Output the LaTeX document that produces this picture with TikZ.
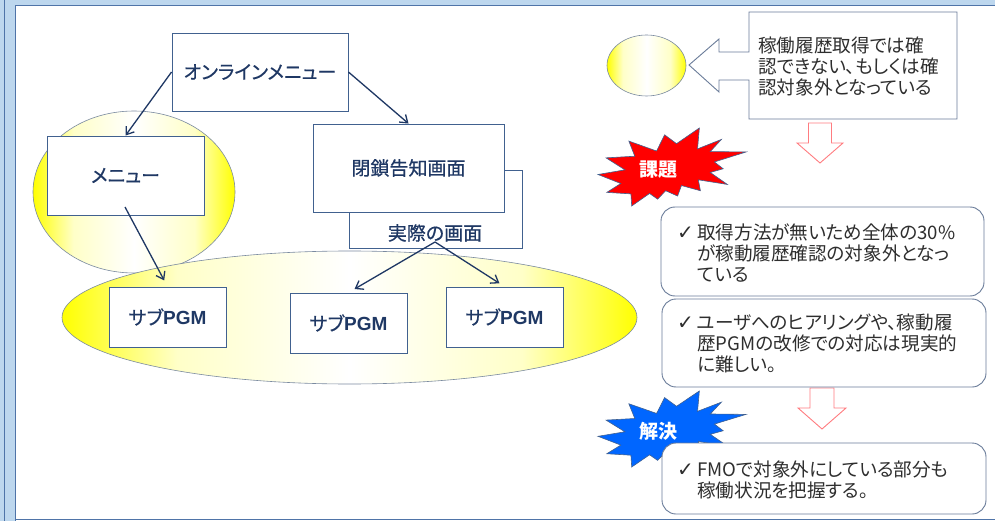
\documentclass[tikz,border=0pt]{standalone}
\usepackage{fontspec}
\setmainfont{Noto Sans CJK JP}[RawFeature=+palt]
\newfontfamily\lblfont{Noto Sans CJK JP}[RawFeature=+palt, FakeBold=0.6]
\newfontfamily\dejavu{DejaVu Sans}
\newfontfamily\arialf{Liberation Sans}
\usetikzlibrary{arrows.meta}
\definecolor{navy}{HTML}{1F3864}
\definecolor{boxline}{HTML}{41618F}
\definecolor{rline}{HTML}{6A7C99}
\definecolor{ellline}{HTML}{7A8AA0}
\definecolor{framebg}{HTML}{BDD7EE}
\definecolor{framedk}{HTML}{4F74A8}
\definecolor{txtgray}{HTML}{2E2E2E}
\definecolor{pinkred}{HTML}{FF7C80}
\definecolor{burstred}{HTML}{FF0000}
\definecolor{burstblue}{HTML}{0066FF}
\definecolor{paley}{HTML}{FFFFC8}
\pgfdeclarehorizontalshading{yellowglow}{100bp}{color(0bp)=(yellow); color(25bp)=(yellow); color(35bp)=(paley); color(50bp)=(white); color(65bp)=(paley); color(75bp)=(yellow); color(100bp)=(yellow)}
\newcommand{\chkmk}{{\dejavu\fontsize{20}{21}\selectfont ✓}}
\newcommand{\sealpath}{(114.62,43.42) -- (147.90,0) -- (145.25,57.77) -- (180.07,31.72) -- (163.80,65.32) -- (216,66.45) -- (169.85,94.02) -- (182.70,112.90) -- (163.80,123.10) -- (188.77,156.32) -- (146.40,143.50) -- (149.42,173.70) -- (121.80,159.35) -- (116.12,188.42) -- (98.72,173.70) -- (87.00,197.12) -- (75.27,181.25) -- (49.17,216) -- (48.05,182.40) -- (12.85,178.25) -- (33.30,153.70) -- (0,128.77) -- (39.35,115.92) -- (11.72,82.70) -- (53.72,78.17) -- (45.02,36.25) -- (85.50,63.82) -- (97.22,18.87) -- cycle}
\begin{document}
\begin{tikzpicture}[x=1pt,y=-1pt,
  box/.style={draw=boxline, fill=white, line width=0.9pt, inner sep=0pt},
  lbl/.style={text=navy, font=\lblfont\fontsize{19}{21}\selectfont},
  conn/.style={draw=navy, line width=1.3pt, -{Straight Barb[length=7pt,width=10pt]}},
  yell/.style={draw=ellline, line width=0.6pt, shading=yellowglow},
  rbox/.style={draw=rline, fill=white, line width=0.9pt, rounded corners=14pt},
  rtext/.style={text=txtgray, font=\fontsize{18.6}{21}\selectfont, align=left, inner sep=0pt, anchor=north west},
  burst/.style={draw=boxline, line width=0.6pt, fill=#1},
  bursttext/.style={text=white, font=\fontsize{19}{21}\selectfont\bfseries},
  hollow/.style={draw=pinkred, fill=white, line width=0.9pt},
]
\useasboundingbox (0,0) rectangle (995,521);
\fill[white] (0,0) rectangle (995,521);
% frame
\fill[framebg] (0,0) rectangle (995,5.5);
\fill[framebg] (0,0) rectangle (16,521);
\draw[framedk, line width=1.5pt] (4.5,0) -- (4.5,521);
\draw[framedk, line width=1.5pt] (15.5,5.5) -- (15.5,521);
\draw[framedk, line width=1.5pt] (15.5,5.5) -- (995,5.5);
\draw[framedk, line width=1.2pt] (15.5,519.5) -- (995,519.5);

% ellipses
\path[yell] (134,192) ellipse [x radius=101, y radius=81];
\path[yell] (349.5,317.5) ellipse [x radius=287.5, y radius=66.5];

% left boxes
\node[box, lbl, minimum width=176pt, minimum height=78pt] (online) at (260,72) {オンラインメニュー};
\node[box, lbl, minimum width=157pt, minimum height=79pt] (menu) at (125.5,175.5) {メニュー};
\node[box, minimum width=173pt, minimum height=78pt] (jissai) at (435.5,209) {};
\node[box, lbl, minimum width=191pt, minimum height=88pt] (heisa) at (408.5,168) {閉鎖告知画面};
\node[lbl] (jtext) at (435,233) {実際の画面};
\node[box, lbl, minimum width=117pt, minimum height=60pt] (pgm1) at (167.5,317) {サブ{\arialf\bfseries PGM}};
\node[box, lbl, minimum width=117pt, minimum height=60pt] (pgm2) at (348.5,323) {サブ{\arialf\bfseries PGM}};
\node[box, lbl, minimum width=117pt, minimum height=60pt] (pgm3) at (504.5,317) {サブ{\arialf\bfseries PGM}};

% connectors
\coordinate (menuout) at (125,207);
\coordinate (apex) at (435,242);
\draw[conn] (online.west) -- (menu.north);
\draw[conn] (online.east) -- (heisa.north);
\draw[conn, shorten >=7pt] (menuout) -- (pgm1.north);
\draw[conn, shorten >=7pt] (apex) -- (pgm2.north);
\draw[conn, shorten >=6pt] (apex) -- (pgm3.north);

% right side
\path[yell] (646.5,65.5) ellipse [x radius=39.5, y radius=30.5];
\draw[draw=rline, fill=white, line width=0.9pt] (749,12) -- (957,12) -- (957,119) -- (749,119) -- (749,80) -- (719,80) -- (719,92) -- (689,65) -- (719,39) -- (719,52) -- (749,52) -- cycle;
\node[rtext] (ctext) at (758,36.5) {稼働履歴取得では確\\認できない、もしくは確\\認対象外となっている};

\draw[hollow] (808.5,123) -- (831.5,123) -- (831.5,143) -- (843,143) -- (820,163) -- (797,143) -- (808.5,143) -- cycle;
\draw[hollow] (810,388) -- (834,388) -- (834,408) -- (846,408) -- (822,429) -- (798,408) -- (810,408) -- cycle;

\begin{scope}[shift={(598,128)}, x=0.6852pt, y=-0.3611pt]
\path[burst=burstred] \sealpath;
\end{scope}
\begin{scope}[shift={(598,391)}, x=0.6852pt, y=-0.3519pt]
\path[burst=burstblue] \sealpath;
\end{scope}
\node[bursttext] (kadai) at (658.5,170) {課題};
\node[bursttext] (kaiketsu) at (658,431) {解決};

\draw[rbox] (661,207) rectangle (984,296);
\draw[rbox] (662,299) rectangle (986,387);
\draw[rbox] (662,443) rectangle (986,514);
\node[rtext] (ta) at (677,223.5) {\makebox[20pt][l]{\chkmk}取得方法が無いため全体の30\%\\\hspace*{20pt}が稼動履歴確認の対象外となっ\\\hspace*{20pt}ている};
\node[rtext] (tb) at (677,313.5) {\makebox[20pt][l]{\chkmk}ユーザへのヒアリングや、稼動履\\\hspace*{20pt}歴PGMの改修での対応は現実的\\\hspace*{20pt}に難しい。};
\node[rtext] (tc) at (677,460.5) {\makebox[20pt][l]{\chkmk}FMOで対象外にしている部分も\\\hspace*{20pt}稼働状況を把握する。};
\end{tikzpicture}
\end{document}
